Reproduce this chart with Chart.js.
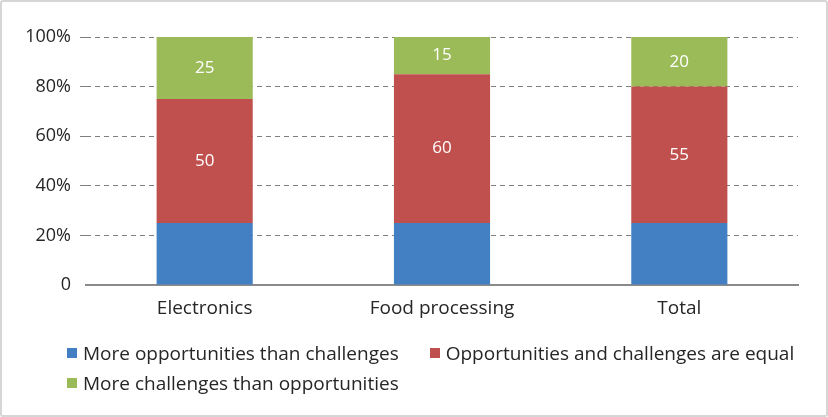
<!DOCTYPE html>
<html>
<head>
<meta charset="utf-8">
<script src="https://cdn.jsdelivr.net/npm/chart.js@4/dist/chart.umd.min.js"></script>
<style>
  html, body { margin: 0; padding: 0; background: #fff; }
  #wrap { position: relative; width: 828px; height: 417px; }
  #wrap canvas { position: absolute; left: 0; top: 0; }
  #frame {
    position: absolute; left: 0; top: 0; right: 0; bottom: 0;
    border: 2px solid #d6d6d6; border-radius: 3px; pointer-events: none;
  }
  #legend {
    position: absolute; left: 67px; top: 338px; width: 740px;
    display: flex; flex-wrap: wrap; column-gap: 31px;
    font-family: "Open Sans", sans-serif; font-size: 19px; color: #262626;
  }
  #legend .item { display: flex; align-items: center; height: 30px; white-space: nowrap; }
  #legend .box { width: 10px; height: 10px; margin-right: 6px; }
</style>
</head>
<body>
<div id="wrap">
  <canvas id="chart" width="828" height="417"></canvas>
  <div id="legend"></div>
  <div id="frame"></div>
</div>
<script>
const categories = ['Electronics', 'Food processing', 'Total']
const moreOpportunities = [25, 25, 25]
const equalShare = [50, 60, 55]
const moreChallenges = [25, 15, 20]
const yTicks = [0, 20, 40, 60, 80, 100]

const FONT = '"Open Sans", sans-serif'
const TEXT = '#262626'

// white value text in the middle of the segments that carry a label
const segmentLabels = {
  id: 'segmentLabels',
  afterDatasetsDraw(chart) {
    const ctx = chart.ctx
    ctx.save()
    ctx.font = '17px ' + FONT
    ctx.fillStyle = '#fff'
    ctx.textAlign = 'center'
    ctx.textBaseline = 'middle'
    chart.data.datasets.forEach((ds, i) => {
      if (!ds.showValue) return
      chart.getDatasetMeta(i).data.forEach((bar, j) => {
        ctx.fillText(String(ds.data[j]), bar.x, (bar.y + bar.base) / 2)
      })
    })
    ctx.restore()
  },
}

const htmlLegend = {
  id: 'htmlLegend',
  afterUpdate(chart) {
    const box = document.getElementById('legend')
    box.innerHTML = ''
    chart.data.datasets.forEach(ds => {
      const item = document.createElement('div')
      item.className = 'item'
      const swatch = document.createElement('span')
      swatch.className = 'box'
      swatch.style.background = ds.backgroundColor
      item.appendChild(swatch)
      item.appendChild(document.createTextNode(ds.label))
      box.appendChild(item)
    })
  },
}

new Chart(document.getElementById('chart'), {
  type: 'bar',
  data: {
    labels: categories,
    datasets: [
      { label: 'More opportunities than challenges', data: moreOpportunities, backgroundColor: '#4380c3' },
      { label: 'Opportunities and challenges are equal', data: equalShare, backgroundColor: '#c0504d', showValue: true },
      { label: 'More challenges than opportunities', data: moreChallenges, backgroundColor: '#9bbb59', showValue: true },
    ],
  },
  options: {
    responsive: false,
    animation: false,
    events: [],
    layout: { padding: { top: 37, left: 0, right: 30, bottom: 92 } },
    datasets: { bar: { categoryPercentage: 1, barPercentage: 0.405, borderWidth: 0 } },
    plugins: {
      legend: { display: false },
      tooltip: { enabled: false },
    },
    scales: {
      x: {
        stacked: true,
        afterFit: scale => { scale.height = 40 },
        grid: { display: false, drawTicks: false },
        border: { display: true, color: '#8a8a8a', width: 2 },
        ticks: { color: TEXT, font: { family: FONT, size: 19 }, padding: 12 },
      },
      y: {
        stacked: true,
        min: 0,
        max: 100,
        afterFit: scale => { scale.width = 86 },
        afterBuildTicks: scale => { scale.ticks = yTicks.map(v => ({ value: v })) },
        grid: {
          color: ctx => (ctx.tick && ctx.tick.value === 0 ? 'rgba(0,0,0,0)' : '#7f7f7f'),
          lineWidth: 1,
          tickLength: 6,
          drawTicks: true,
        },
        border: { display: false, dash: [5, 4] },
        ticks: {
          color: TEXT,
          font: { family: FONT, size: 18 },
          padding: 9,
          callback: v => (v === 0 ? '0' : v + '%'),
        },
      },
    },
  },
  plugins: [segmentLabels, htmlLegend],
})
</script>
</body>
</html>
